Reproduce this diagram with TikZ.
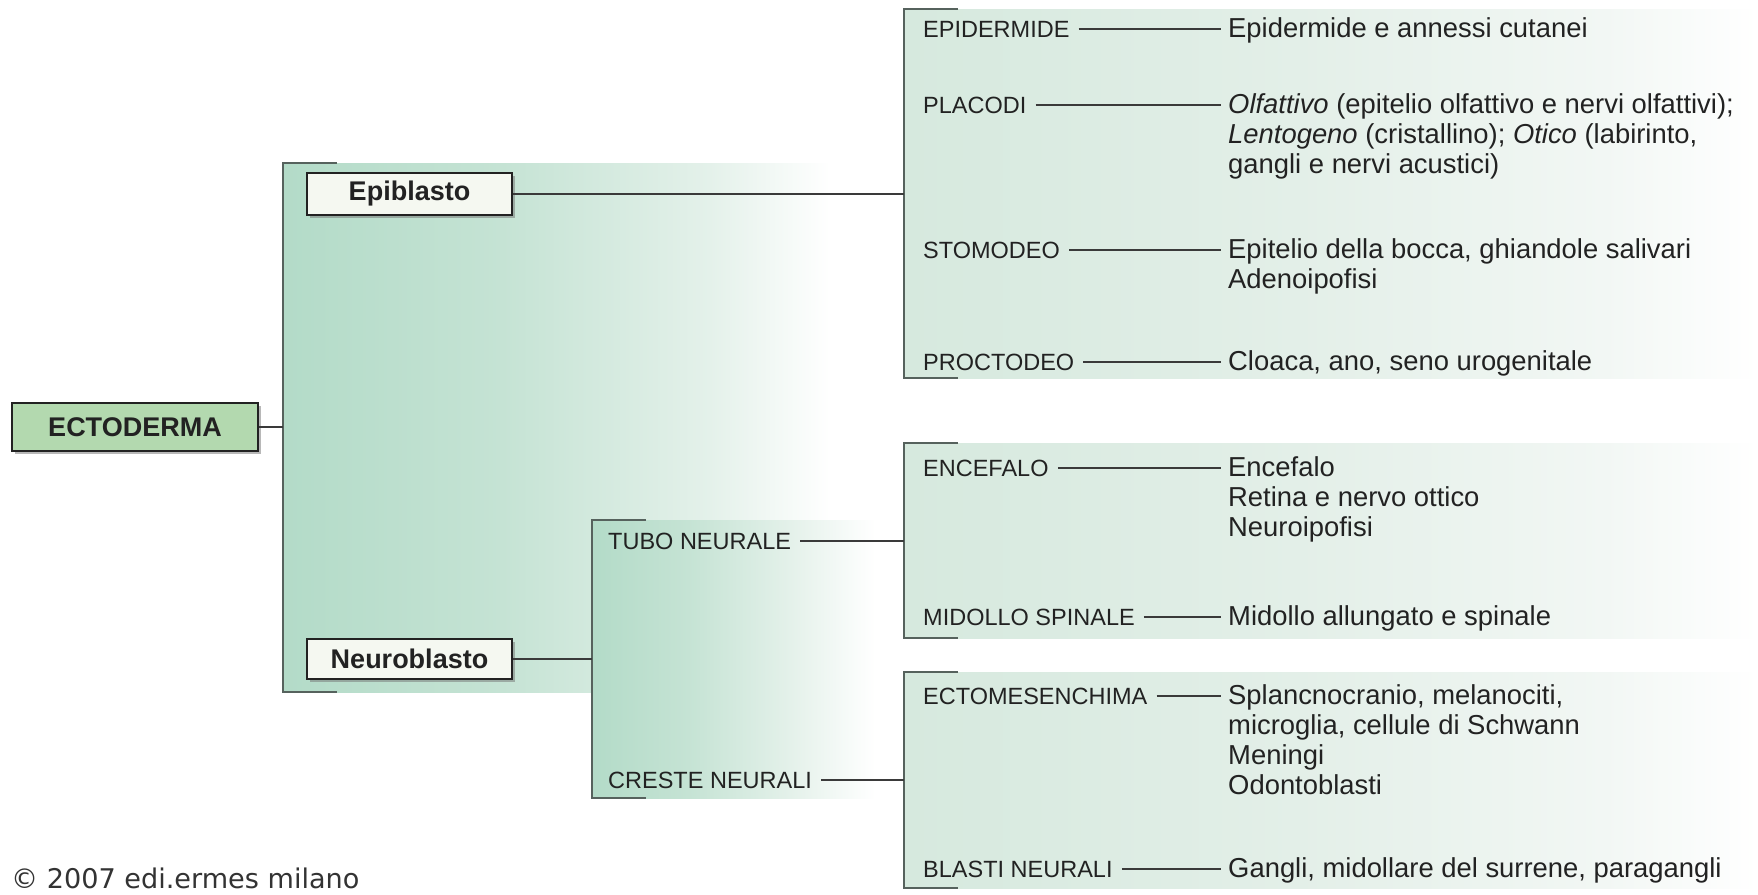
\documentclass[tikz,border=0pt]{standalone}
\usepackage{fontspec}
\setmainfont{Liberation Sans}
\newfontfamily\djv{DejaVu Sans}
\usetikzlibrary{shadows,calc}

\definecolor{txt}{HTML}{222222}
\definecolor{brk}{HTML}{56625D}
\definecolor{lin}{HTML}{3A3A3A}
\definecolor{ectofill}{HTML}{B3D9AF}
\definecolor{boxfill}{HTML}{F5F8F1}
\definecolor{sA}{HTML}{B3DBC8}
\definecolor{sB}{HTML}{C5E3D4}
\definecolor{sC}{HTML}{E4F1EA}
\definecolor{rA}{HTML}{D6E9DE}
\definecolor{rB}{HTML}{E3EFE8}
\definecolor{rC}{HTML}{F2F7F4}

% the path is fitted into the 25bp--75bp part of a shading
\pgfdeclarehorizontalshading{bigsh}{100bp}{color(0bp)=(sA); color(25bp)=(sA); color(45bp)=(sB); color(64bp)=(sC); color(75bp)=(white); color(100bp)=(white)}
\pgfdeclarehorizontalshading{tubsh}{100bp}{color(0bp)=(sA); color(25bp)=(sA); color(42bp)=(sB); color(60bp)=(sC); color(75bp)=(white); color(100bp)=(white)}
\pgfdeclarehorizontalshading{rightsh}{100bp}{color(0bp)=(rA); color(25bp)=(rA); color(48bp)=(rB); color(66bp)=(rC); color(75bp)=(white); color(100bp)=(white)}

\newcommand{\mlines}[1]{\begin{tabular}[t]{@{}l@{}}#1\end{tabular}}

\begin{document}
\begin{tikzpicture}[x=1pt,y=-1pt,line cap=butt,
  brack/.style={draw=brk, line width=2.6pt},
  conn/.style={draw=lin, line width=2pt},
  lab/.style={anchor=base west, inner sep=0pt, font=\fontsize{23.5}{26}\selectfont, text=txt},
  res/.style={anchor=base west, inner sep=0pt, font=\fontsize{27.4}{30}\selectfont, text=txt},
  mainbox/.style={draw=txt, line width=2pt, inner sep=0pt, text=txt,
     font=\fontsize{27}{30}\selectfont\bfseries,
     drop shadow={shadow xshift=3pt, shadow yshift=-3pt, fill=black!55, opacity=.5}},
  labline/.style={conn, shorten <=9pt, shorten >=7pt}
]
\useasboundingbox (0,0) rectangle (1758,894);
\fill[white] (0,0) rectangle (1758,894);

% shaded regions
\shade[shading=bigsh] (283,163) rectangle (830,692);
\shade[shading=tubsh] (592,520) rectangle (875,798);
\shade[shading=rightsh] (904,9) rectangle (1758,378);
\shade[shading=rightsh] (904,443) rectangle (1758,638);
\shade[shading=rightsh] (904,672) rectangle (1758,888);

% bracket coordinates
\coordinate (b1t) at (283,163); \coordinate (b1b) at (283,692);
\coordinate (b2t) at (904,9);   \coordinate (b2b) at (904,378);
\coordinate (b3t) at (592,520); \coordinate (b3b) at (592,798);
\coordinate (b4t) at (904,443); \coordinate (b4b) at (904,638);
\coordinate (b5t) at (904,672); \coordinate (b5b) at (904,888);

\foreach \t/\b in {b1t/b1b,b2t/b2b,b3t/b3b,b4t/b4b,b5t/b5b}{
  \draw[brack] ($(\t)+(54,0)$) -- (\t) -- (\b) -- ($(\b)+(54,0)$);
}

% main boxes
\node[mainbox, fill=ectofill, minimum width=246pt, minimum height=48pt] (ecto) at (135,427) {ECTODERMA};
\node[mainbox, fill=boxfill, minimum width=205pt, minimum height=42pt] (epi) at (409.5,194) {Epiblasto};
\node[mainbox, fill=boxfill, minimum width=205pt, minimum height=40pt] (neuro) at (409.5,659) {Neuroblasto};

% second level labels
\node[lab] (tubo) at (608,549) {TUBO NEURALE};
\node[lab] (creste) at (608,788) {CRESTE NEURALI};

% tree connectors
\draw[conn] (ecto.east) -- (ecto.east -| b1t);
\draw[conn] (epi.east) -- (epi.east -| b2t);
\draw[conn] (neuro.east) -- (neuro.east -| b3t);
\draw[conn, shorten <=9pt] (tubo.east) -- (tubo.east -| b4t);
\draw[conn, shorten <=9pt] (creste.east) -- (creste.east -| b5t);

% right column labels
\node[lab] (lepi) at (923,37) {EPIDERMIDE};
\node[lab] (lpla) at (923,113) {PLACODI};
\node[lab] (lsto) at (923,258) {STOMODEO};
\node[lab] (lpro) at (923,370) {PROCTODEO};
\node[lab] (lenc) at (923,476) {ENCEFALO};
\node[lab] (lmid) at (923,625) {MIDOLLO SPINALE};
\node[lab] (lect) at (923,704) {ECTOMESENCHIMA};
\node[lab] (lbla) at (923,877) {BLASTI NEURALI};

% right column results
\node[res] (repi) at (1228,37) {\mlines{Epidermide e annessi cutanei}};
\node[res] (rpla) at (1228,113) {\mlines{\textit{Olfattivo} (epitelio olfattivo e nervi olfattivi);\\
  \textit{Lentogeno} (cristallino); \textit{Otico} (labirinto,\\ gangli e nervi acustici)}};
\node[res] (rsto) at (1228,258) {\mlines{Epitelio della bocca, ghiandole salivari\\ Adenoipofisi}};
\node[res] (rpro) at (1228,370) {\mlines{Cloaca, ano, seno urogenitale}};
\node[res] (renc) at (1228,476) {\mlines{Encefalo\\ Retina e nervo ottico\\ Neuroipofisi}};
\node[res] (rmid) at (1228,625) {\mlines{Midollo allungato e spinale}};
\node[res] (rect) at (1228,704) {\mlines{Splancnocranio, melanociti,\\ microglia, cellule di Schwann\\ Meningi\\ Odontoblasti}};
\node[res] (rbla) at (1228,877) {\mlines{Gangli, midollare del surrene, paragangli}};

\foreach \l/\r in {lepi/repi,lpla/rpla,lsto/rsto,lpro/rpro,lenc/renc,lmid/rmid,lect/rect,lbla/rbla}{
  \draw[labline] (\l.east) -- (\l.east -| \r.west);
}

% copyright
\node[anchor=base west, inner sep=0pt, font=\djv\fontsize{27.1}{30}\selectfont, text=black!80] (copy) at (11,888) {© 2007 edi.ermes milano};
\end{tikzpicture}
\end{document}
